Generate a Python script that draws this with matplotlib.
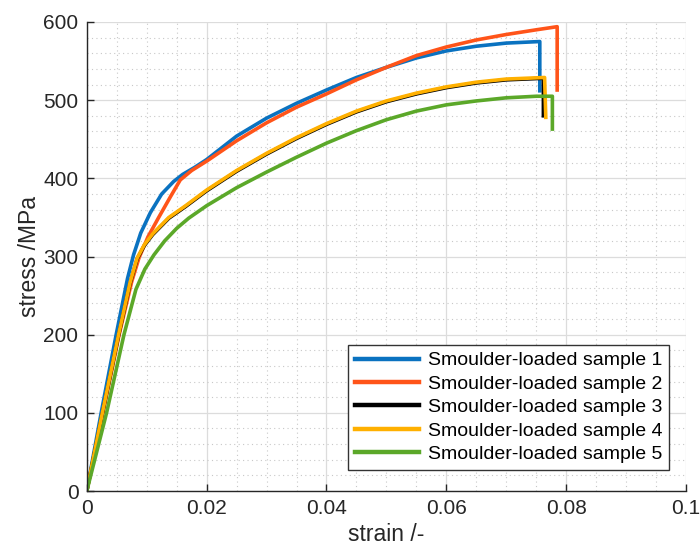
import matplotlib
matplotlib.use("Agg")
import matplotlib.pyplot as plt
from matplotlib.ticker import MultipleLocator, FuncFormatter

plt.rcParams['font.family'] = ['Liberation Sans', 'DejaVu Sans']

# data
strain_1 = [0, 0.0024, 0.0049, 0.0068, 0.0078, 0.009, 0.0106, 0.0125, 0.0145, 0.016, 0.018, 0.02,
            0.025, 0.03, 0.035, 0.04, 0.045, 0.05, 0.055, 0.06, 0.065, 0.07, 0.0756, 0.0756]
stress_1 = [0, 100, 200, 272, 302, 330, 356, 380, 396, 405, 414, 424,
            454, 477, 496, 513, 529, 542, 554, 563, 569, 573, 575, 512]

strain_2 = [0, 0.0027, 0.0054, 0.0075, 0.0087, 0.0102, 0.012, 0.014, 0.0156, 0.0175, 0.02,
            0.025, 0.03, 0.035, 0.04, 0.045, 0.05, 0.055, 0.06, 0.065, 0.07, 0.075, 0.0785, 0.0785]
stress_2 = [0, 100, 200, 268, 298, 325, 350, 377, 398, 410, 422,
            448, 471, 491, 508, 526, 542, 557, 568, 577, 584, 590, 594, 513]

strain_3 = [0, 0.0026, 0.0053, 0.0072, 0.0084, 0.0096, 0.011, 0.0137, 0.0165, 0.02, 0.025, 0.03,
            0.035, 0.04, 0.045, 0.05, 0.055, 0.06, 0.065, 0.07, 0.0762, 0.0762]
stress_3 = [0, 99, 199, 265, 297, 314, 328, 349, 364, 384, 409, 431,
            451, 469, 485, 498, 508, 516, 522, 526, 528, 480]

strain_4 = [0, 0.0026, 0.0053, 0.0072, 0.0084, 0.0096, 0.011, 0.0137, 0.0165, 0.02, 0.025, 0.03,
            0.035, 0.04, 0.045, 0.05, 0.055, 0.06, 0.065, 0.07, 0.0764, 0.0766]
stress_4 = [0, 100, 200, 266, 298, 315, 329, 350, 365, 385, 410, 432,
            452, 470, 486, 499, 509, 517, 523, 527, 529, 478]

strain_5 = [0, 0.0033, 0.0062, 0.0082, 0.0097, 0.0112, 0.013, 0.015, 0.017, 0.02, 0.025, 0.03,
            0.035, 0.04, 0.045, 0.05, 0.055, 0.06, 0.065, 0.07, 0.075, 0.0777, 0.0777]
stress_5 = [0, 100, 200, 258, 284, 302, 320, 336, 349, 365, 388, 408,
            427, 445, 461, 475, 486, 494, 499, 503, 505, 505, 463]

labels = ['Smoulder-loaded sample %d' % i for i in range(1, 6)]
colors = ['#0a72c0', '#ff5419', '#000000', '#ffb000', '#5ba829']

fig = plt.figure(figsize=(7, 5.54), dpi=100)
ax = fig.add_axes([0.124, 0.1137, 0.856, 0.8466])

series = [(strain_1, stress_1), (strain_2, stress_2), (strain_3, stress_3),
          (strain_4, stress_4), (strain_5, stress_5)]
for (x, y), c, lab in zip(series, colors, labels):
    ax.plot(x, y, color=c, lw=2.6, label=lab, solid_joinstyle='round')

ax.set_xlim(0, 0.1)
ax.set_ylim(0, 600)
ax.xaxis.set_major_locator(MultipleLocator(0.02))
ax.xaxis.set_minor_locator(MultipleLocator(0.005))
ax.yaxis.set_major_locator(MultipleLocator(100))
ax.yaxis.set_minor_locator(MultipleLocator(20))
ax.xaxis.set_major_formatter(FuncFormatter(lambda v, p: '%g' % round(v, 3)))

ax.grid(which='major', color='#dcdcdc', lw=0.9, ls='-')
ax.grid(which='minor', color='#c8c8c8', lw=0.8, ls=(0, (1, 3)))
ax.set_axisbelow(True)

ax.spines['top'].set_visible(False)
ax.spines['right'].set_visible(False)
for s in ['left', 'bottom']:
    ax.spines[s].set_color('#262626')
    ax.spines[s].set_linewidth(1.0)
ax.tick_params(which='major', direction='in', length=5, width=1, color='#262626',
               labelsize=15, labelcolor='#262626')
ax.tick_params(axis='x', pad=6)
ax.tick_params(axis='y', pad=6)
ax.tick_params(which='minor', length=0)

ax.set_xlabel('strain /-', fontsize=16.5, color='#262626', labelpad=3)
ax.set_ylabel('stress /MPa', fontsize=16.5, color='#262626', labelpad=2)

leg = ax.legend(loc='lower right', bbox_to_anchor=(0.972, 0.045), fontsize=14,
                handlelength=3.3, handletextpad=0.45, labelspacing=0.3,
                borderpad=0.35, borderaxespad=0, fancybox=False, framealpha=1)
leg.get_frame().set_edgecolor('#333333')
leg.get_frame().set_linewidth(1.0)
for h in leg.get_lines():
    h.set_linewidth(3.2)

fig.savefig('out.png', dpi=100)
